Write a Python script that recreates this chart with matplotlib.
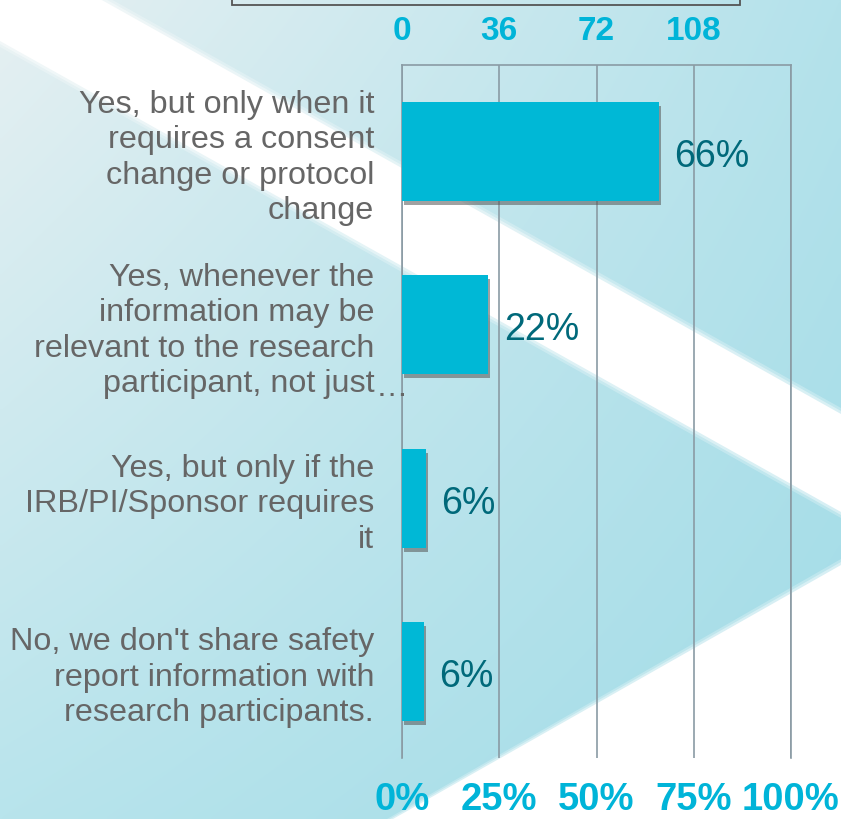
import numpy as np
import matplotlib
matplotlib.use('Agg')
from matplotlib import pyplot as plt
from matplotlib import transforms
from matplotlib.patches import Polygon, Rectangle

plt.rcParams['font.family'] = ['Liberation Sans', 'DejaVu Sans']

# survey answers (counts out of 144 respondents)
categories = ["Yes, but only when it\nrequires a consent\nchange or protocol\nchange",
              "Yes, whenever the\ninformation may be\nrelevant to the research\nparticipant, not just",
              "Yes, but only if the\nIRB/PI/Sponsor requires\nit",
              "No, we don't share safety\nreport information with\nresearch participants."]
counts = [95, 32, 9, 8]
total = 144
pct_ticks = [0, 25, 50, 75, 100]
count_ticks = [0, 36, 72, 108]

pct = [c / total * 100 for c in counts]

W, H = 841, 819
fig = plt.figure(figsize=(W / 100, H / 100), dpi=100)

# background: soft cyan gradient with white diagonal shapes
bg = fig.add_axes([0, 0, 1, 1], zorder=-5)
bg.set_xlim(0, W)
bg.set_ylim(H, 0)
bg.axis('off')
c_tl = np.array([0xE6, 0xF0, 0xF2]) / 255
c_bl = np.array([0xB8, 0xE4, 0xEC]) / 255
c_tr = np.array([0xB4, 0xE2, 0xEB]) / 255
c_br = np.array([0xA2, 0xDC, 0xE7]) / 255
gx, gy = np.meshgrid(np.linspace(0, 1, 200), np.linspace(0, 1, 200))
gx = gx[..., None]
gy = gy[..., None]
grad = (c_tl * (1 - gx) * (1 - gy) + c_tr * gx * (1 - gy)
        + c_bl * (1 - gx) * gy + c_br * gx * gy)
bg.imshow(grad, extent=[0, W, H, 0], aspect='auto', interpolation='bilinear')

for grow, a in [(6, 0.25), (3, 0.4), (0, 1.0)]:
    stripe = Polygon([(0, -57 - grow), (W, 414 - grow), (W, 512 + grow), (0, 41 + grow)],
                     closed=True, facecolor='white', edgecolor='none', alpha=a)
    bg.add_patch(stripe)
    tri = Polygon([(393 - grow, H), (W, 565 - grow), (W, H)],
                  closed=True, facecolor='white', edgecolor='none', alpha=a)
    bg.add_patch(tri)
# leftover legend frame at the very top
bg.add_patch(Rectangle((232, -10), 508, 15, facecolor='none', edgecolor='#555555', lw=1.3))

ax = fig.add_axes([402 / W, 1 - 758 / H, 389 / W, 693 / H])
ax.patch.set_alpha(0)

y = np.arange(len(categories))
shadow = transforms.offset_copy(ax.transData, fig=fig, x=2, y=-4, units='dots')
ax.barh(y, pct, height=0.57, color='#555555', alpha=0.55, transform=shadow, zorder=2)
ax.barh(y, pct, height=0.57, color='#00B8D6', zorder=3)

for i, p in enumerate(pct):
    ax.annotate(f"{p:.0f}%", xy=(p, i), xytext=(11, -4), textcoords='offset points',
                va='center', ha='left', fontsize=27, color='#00697A', zorder=4)

ax.set_xlim(0, 100)
ax.set_ylim(3.5, -0.5)
ax.set_xticks(pct_ticks)
ax.set_xticklabels([f"{t}%" for t in pct_ticks])
ax.set_yticks(y)
ax.set_yticklabels(categories)
ax.tick_params(axis='x', length=0, pad=17, labelsize=27.5, labelcolor='#00B4D8')
ax.tick_params(axis='y', length=0, pad=20, labelsize=23.3, labelcolor='#666666')
for lab in ax.get_xticklabels():
    lab.set_fontweight('bold')
for lab in ax.get_yticklabels():
    lab.set_linespacing(1.24)

ax.grid(axis='x', color='#8A9BA4', lw=1.2, zorder=1)
ax.set_axisbelow(True)
ax.spines['bottom'].set_visible(False)
for s in ['top', 'left', 'right']:
    ax.spines[s].set_color('#8A9BA4')
    ax.spines[s].set_linewidth(1.2)

# ellipsis of the truncated second label
ax.annotate("\u2026", xy=(0, 1), xycoords=ax.get_yaxis_transform(), xytext=(-19, -51),
            textcoords='offset points', ha='left', va='baseline', fontsize=23.3, color='#666666')

top = ax.twiny()
top.set_xlim(0, total)
top.set_xticks(count_ticks)
top.tick_params(axis='x', length=0, pad=13, labelsize=24, labelcolor='#00B4D8')
for lab in top.get_xticklabels():
    lab.set_fontweight('bold')
for s in top.spines.values():
    s.set_visible(False)

fig.savefig('out.png', dpi=100)
